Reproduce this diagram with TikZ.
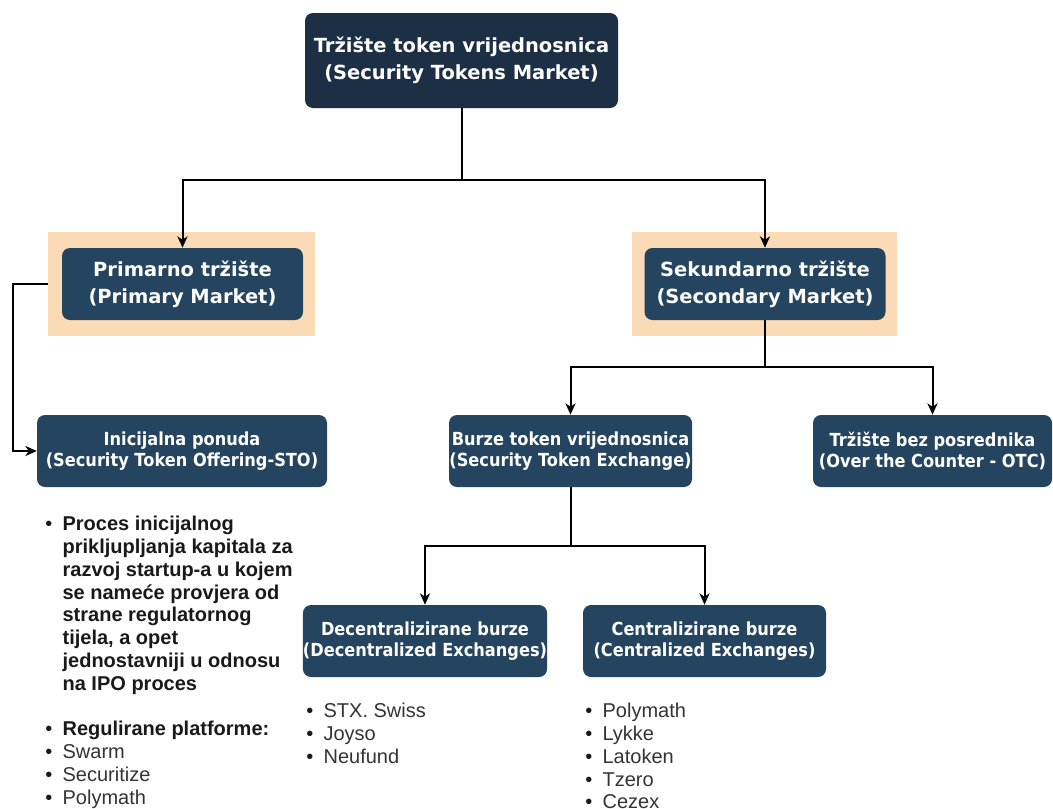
\documentclass[tikz,border=0pt]{standalone}
\usepackage{fontspec}
\setmainfont{Liberation Sans}
\newfontfamily\boxfont{DejaVu Sans}
\newfontfamily\narrowfont[FakeStretch=0.9]{DejaVu Sans}
\usetikzlibrary{arrows.meta}
\definecolor{topblue}{HTML}{1C2F45}
\definecolor{boxblue}{HTML}{24445F}
\definecolor{peach}{HTML}{FBDBB5}
\definecolor{itemgray}{HTML}{333333}
\newcommand{\PX}{0.75pt}
\newcommand{\bul}{\makebox[13pt][l]{\textbullet}}
\newcommand{\ind}{\hspace*{13pt}}
\newcommand{\GR}[1]{\textcolor{itemgray}{#1}}

\begin{document}
\begin{tikzpicture}[x=0.75pt, y=-0.75pt, >={Stealth[length=8.5pt, width=7.5pt, inset=2.5pt]}]

  \tikzset{
    box/.style={fill=boxblue, rounded corners=6pt, text=white, align=center,
      inner sep=0pt, minimum width=241*\PX, minimum height=72*\PX,
      font=\boxfont\bfseries\fontsize{14.6}{20}\selectfont},
    topbox/.style={box, fill=topblue, minimum width=313*\PX, minimum height=95*\PX},
    lowbox/.style={box, minimum width=243*\PX,
      font=\narrowfont\bfseries\fontsize{13.5}{16}\selectfont},
    backdrop/.style={fill=peach, inner sep=0pt, minimum width=267*\PX, minimum height=104*\PX},
    items/.style={align=left, inner sep=0pt, anchor=north west, text=black!90,
      font=\fontsize{15}{17.1}\selectfont},
    link/.style={->, line width=1.5pt}
  }

  \useasboundingbox (0,0) rectangle (1053,808);

  % levels of the connectors
  \coordinate (lvlA) at (0,180);
  \coordinate (lvlB) at (0,367);
  \coordinate (lvlC) at (0,546);

  \node[backdrop] (primbg) at (181.5,284) {};
  \node[backdrop, minimum width=265*\PX] (secbg) at (764.5,284) {};

  \node[topbox] (stm) at (461.5,60.5) {Tržište token vrijednosnica\\(Security Tokens Market)};
  \node[box] (prim) at (182.5,284) {Primarno tržište\\(Primary Market)};
  \node[box] (sec) at (765,284) {Sekundarno tržište\\(Secondary Market)};

  \node[lowbox, minimum width=290*\PX] (sto) at (182,451) {Inicijalna ponuda\\(Security Token Offering-STO)};
  \node[lowbox] (ste) at (570.5,451) {Burze token vrijednosnica\\(Security Token Exchange)};
  \node[lowbox, minimum width=239*\PX] (otc) at (932.5,451) {Tržište bez posrednika\\(Over the Counter - OTC)};
  \node[lowbox, minimum width=244*\PX] (dex) at (425,641) {Decentralizirane burze\\(Decentralized Exchanges)};
  \node[lowbox] (cex) at (704.5,641) {Centralizirane burze\\(Centralized Exchanges)};

  \draw[link] (stm.south) -- (stm.south |- lvlA) -| (prim.north); %% market->primary
  \draw[link] (stm.south) -- (stm.south |- lvlA) -| (sec.north);  %% market->secondary

  \draw[link] (primbg.west) -- ++(-35,0) |- (sto.west); %% primary->STO

  \draw[link] (sec.south) -- (sec.south |- lvlB) -| (ste.north); %% secondary->exchange
  \draw[link] (sec.south) -- (sec.south |- lvlB) -| (otc.north); %% secondary->OTC

  \draw[link] (ste.south) -- (ste.south |- lvlC) -| (dex.north); %% exchange->DEX
  \draw[link] (ste.south) -- (ste.south |- lvlC) -| (cex.north); %% exchange->CEX

  \node[items] (stoinfo) at (45,516) {%
    \bul\textbf{Proces inicijalnog}\\
    \ind\textbf{prikljupljanja kapitala za}\\
    \ind\textbf{razvoj startup-a u kojem}\\
    \ind\textbf{se nameće provjera od}\\
    \ind\textbf{strane regulatornog}\\
    \ind\textbf{tijela, a opet}\\
    \ind\textbf{jednostavniji u odnosu}\\
    \ind\textbf{na IPO proces}\\[17.1pt]
    \bul\textbf{Regulirane platforme:}\\
    \bul\GR{Swarm}\\
    \bul\GR{Securitize}\\
    \bul\GR{Polymath}};

  \node[items] (dexinfo) at (306,703) {%
    \bul\GR{STX. Swiss}\\
    \bul\GR{Joyso}\\
    \bul\GR{Neufund}};

  \node[items] (cexinfo) at (585,703) {%
    \bul\GR{Polymath}\\
    \bul\GR{Lykke}\\
    \bul\GR{Latoken}\\
    \bul\GR{Tzero}\\
    \bul\GR{Cezex}};

\end{tikzpicture}
\end{document}
